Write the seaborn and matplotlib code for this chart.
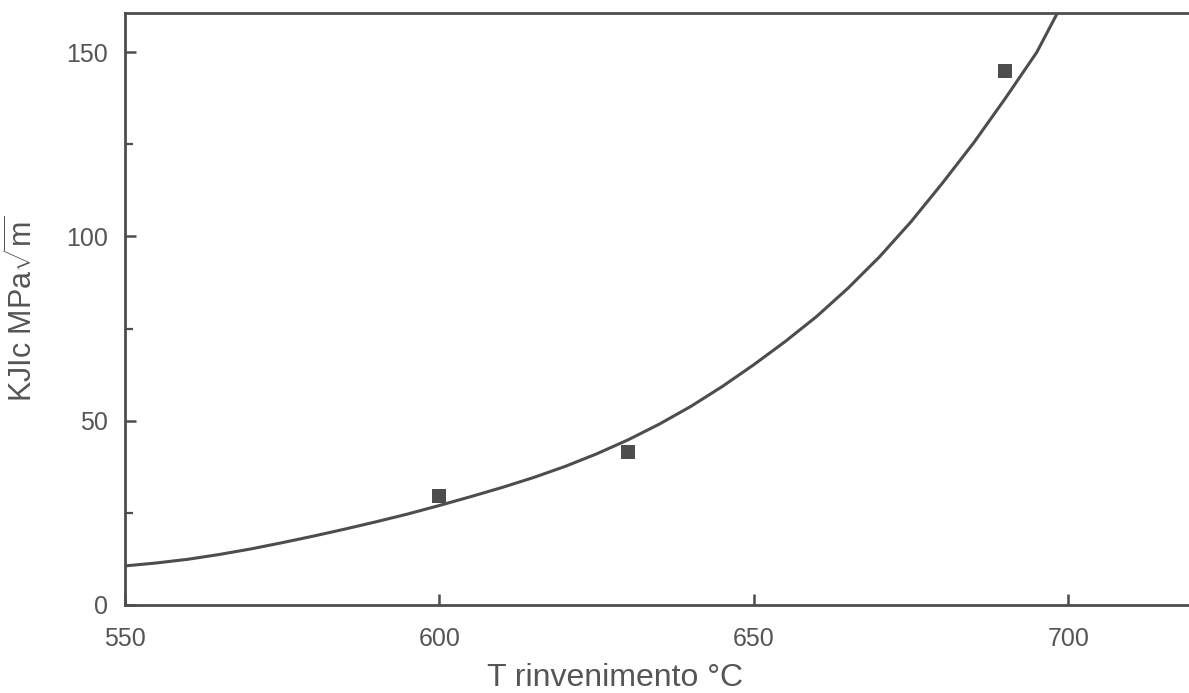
import matplotlib
matplotlib.use("Agg")
import matplotlib.pyplot as plt
import seaborn as sns
import pandas as pd
from matplotlib.ticker import MultipleLocator

# Fitted curve
curve_T = [550, 555, 560, 565, 570, 575, 580, 585, 590, 595, 600, 605, 610, 615,
           620, 625, 630, 635, 640, 645, 650, 655, 660, 665, 670, 675, 680, 685,
           690, 695, 699]
curve_K = [10.6, 11.4, 12.4, 13.7, 15.2, 16.9, 18.7, 20.6, 22.6, 24.7, 27.0, 29.4,
           31.9, 34.6, 37.6, 41.0, 44.8, 49.1, 53.9, 59.3, 65.2, 71.5, 78.3, 86.0,
           94.5, 104.0, 114.5, 125.5, 137.5, 150.0, 163.0]

# Measured points
pts_T = [600, 630, 690]
pts_K = [29.5, 41.5, 145.0]

x_ticks = [550, 600, 650, 700]
y_ticks = [0, 50, 100, 150]

xlabel = "T rinvenimento °C"
ylabel = r"KJIc MPa$\sqrt{\mathrm{m}}$"

sns.set_style("ticks")
plt.rcParams["font.family"] = ["Liberation Sans", "DejaVu Sans"]
plt.rcParams["mathtext.fontset"] = "custom"
plt.rcParams["mathtext.rm"] = "Liberation Sans"

ink = "#4d4d4d"
txt = "#555555"

fig = plt.figure(figsize=(11.89, 6.93), dpi=100)
ax = fig.add_axes([0.105, 0.127, 0.895, 0.854])

df_curve = pd.DataFrame({"T": curve_T, "K": curve_K})
df_pts = pd.DataFrame({"T": pts_T, "K": pts_K})

sns.lineplot(data=df_curve, x="T", y="K", ax=ax, color=ink, linewidth=2.2,
             sort=True, estimator=None)
sns.scatterplot(data=df_pts, x="T", y="K", ax=ax, marker="s", s=110,
                color=ink, edgecolor=ink, linewidth=0, zorder=5)

ax.set_xlim(550, 719.2)
ax.set_ylim(0, 160.6)
ax.set_xticks(x_ticks)
ax.set_yticks(y_ticks)
ax.yaxis.set_minor_locator(MultipleLocator(25))

for side in ["left", "bottom", "top"]:
    ax.spines[side].set_color(ink)
    ax.spines[side].set_linewidth(2.0)
ax.spines["right"].set_visible(False)

ax.tick_params(axis="both", which="major", direction="in", length=8, width=1.8,
               color=ink, labelcolor=txt, labelsize=18)
ax.tick_params(axis="x", which="major", pad=16)
ax.tick_params(axis="y", which="major", pad=12)
ax.tick_params(axis="y", which="minor", direction="in", length=6, width=1.6,
               color=ink)
ax.tick_params(axis="x", which="both", top=False)

ax.set_xlabel(xlabel, fontsize=23, color=txt)
ax.xaxis.set_label_coords(0.461, -0.098)
ax.set_ylabel(ylabel, fontsize=22, color=txt, labelpad=20)
ax.grid(False)

fig.savefig("out.png", dpi=100, facecolor="white")
